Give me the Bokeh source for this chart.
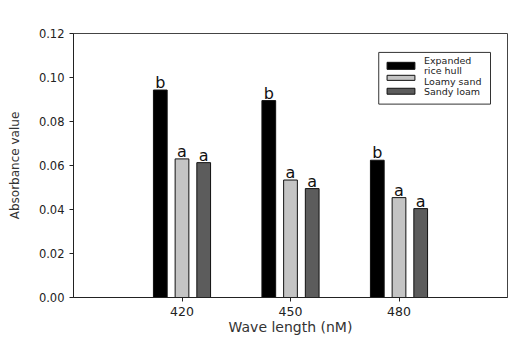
from bokeh.plotting import figure
from bokeh.models import ColumnDataSource, FixedTicker, NumeralTickFormatter, Range1d
from bokeh.core.properties import value
from bokeh.embed import file_html
from bokeh.resources import INLINE

# Absorbance readings per wavelength and substrate
wavelengths = [420, 450, 480]
series_names = ["Expanded rice hull", "Loamy sand", "Sandy loam"]
rice_hull = [0.0943, 0.0895, 0.0624]
loamy_sand = [0.0630, 0.0534, 0.0454]
sandy_loam = [0.0613, 0.0495, 0.0404]
rice_hull_letters = ["b", "b", "b"]
loamy_sand_letters = ["a", "a", "a"]
sandy_loam_letters = ["a", "a", "a"]
y_ticks = [0.0, 0.02, 0.04, 0.06, 0.08, 0.10, 0.12]

FONT = "DejaVu Sans"
colors = ["#000000", "#c4c4c4", "#5c5c5c"]
offsets = [-6.0, 0.0, 6.0]
bar_w = 3.8

p = figure(width=511, height=337, output_backend="svg", toolbar_location=None,
           x_range=Range1d(390, 510), y_range=Range1d(0, 0.12),
           min_border_left=73, min_border_right=4, min_border_top=33, min_border_bottom=39)
p.grid.visible = False
p.outline_line_color = "#444444"
p.outline_line_width = 1
p.background_fill_color = "white"
p.border_fill_color = "white"

series = [(rice_hull, rice_hull_letters), (loamy_sand, loamy_sand_letters), (sandy_loam, sandy_loam_letters)]
for (vals, letters), off, col in zip(series, offsets, colors):
    src = ColumnDataSource(dict(x=[w + off for w in wavelengths], top=vals, lab=letters))
    p.vbar(x="x", top="top", bottom=0, width=bar_w, source=src,
           fill_color=col, line_color="#111111", line_width=1)
    p.text(x="x", y="top", text="lab", source=src, text_align="center",
           text_baseline="bottom", y_offset=2, text_font=value(FONT),
           text_font_size="16px", text_color="#111111")

# axes
p.xaxis.ticker = FixedTicker(ticks=wavelengths)
p.yaxis.ticker = FixedTicker(ticks=y_ticks)
p.yaxis.formatter = NumeralTickFormatter(format="0.00")
for ax in (p.xaxis, p.yaxis):
    ax.major_tick_out = 4
    ax.major_tick_in = 0
    ax.minor_tick_out = 0
    ax.minor_tick_in = 0
    ax.axis_line_color = "#222222"
    ax.major_tick_line_color = "#222222"
    ax.major_label_text_font = FONT
    ax.major_label_text_color = "#222222"
    ax.axis_label_text_font = FONT
    ax.axis_label_text_font_style = "normal"
    ax.axis_label_text_color = "#333333"
p.xaxis.major_label_text_font_size = "12.5px"
p.yaxis.major_label_text_font_size = "11.5px"
p.xaxis.axis_label_text_font_size = "14px"
p.yaxis.axis_label_text_font_size = "12px"
p.xaxis.axis_label = "Wave length (nM)"
p.yaxis.axis_label = "Absorbance value"
p.xaxis.major_label_standoff = 5
p.xaxis.axis_label_standoff = 0
p.yaxis.major_label_standoff = 5
p.yaxis.axis_label_standoff = 14

# legend box drawn in data space
p.quad(left=[474.4], right=[505.3], bottom=[0.0879], top=[0.1114],
       fill_color="white", line_color="#333333", line_width=1)
patch_tops = [0.1069, 0.1010, 0.0951]
patch_bottoms = [0.1037, 0.0987, 0.0924]
p.quad(left=[476.7] * 3, right=[484.4] * 3, bottom=patch_bottoms, top=patch_tops,
       fill_color=colors, line_color="#111111", line_width=1)
legend_lines = ["Expanded", "rice hull", "Loamy sand", "Sandy loam"]
legend_y = [0.1078, 0.1030, 0.0983, 0.0936]
p.text(x=[486.9] * 4, y=legend_y, text=legend_lines, text_align="left",
       text_baseline="middle", text_font=value(FONT), text_font_size="9.5px",
       text_color="#222222")

open("out.html", "w").write(file_html(p, INLINE))
